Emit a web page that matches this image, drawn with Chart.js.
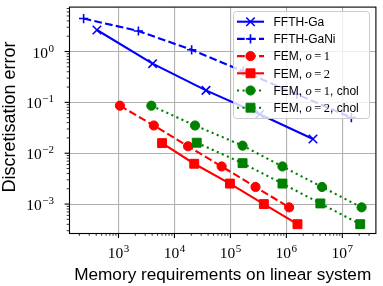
<!DOCTYPE html>
<html><head><meta charset="utf-8">
<script src="https://cdn.jsdelivr.net/npm/chart.js@4/dist/chart.umd.min.js"></script>
<style>html,body{margin:0;padding:0;background:#fff;}canvas{display:block;}</style>
</head><body>
<canvas id="c" width="383" height="286"></canvas>
<script>
// ---- data ----
const seriesNames = ['FFTH-Ga', 'FFTH-GaNi', 'FEM, o = 1', 'FEM, o = 2', 'FEM, o = 1, chol', 'FEM, o = 2, chol'];
const gaMem   = [412, 4070, 36600, 335000, 2.99e6];
const gaErr   = [2.65, 0.576, 0.172, 0.0585, 0.0190];
const ganiMem = [238, 2270, 20300, 169000, 1.53e6, 1.45e7];
const ganiErr = [4.45, 2.53, 1.08, 0.408, 0.145, 0.050];
const fem1Mem = [1060, 4280, 17500, 69700, 281000, 1.12e6];
const fem1Err = [0.0860, 0.0351, 0.0137, 0.00549, 0.00217, 0.000862];
const fem2Mem = [6010, 22600, 98000, 396000, 1.58e6];
const fem2Err = [0.0158, 0.00621, 0.00253, 0.00100, 0.000402];
const fem1cMem = [3870, 23300, 165000, 851000, 4.33e6, 2.21e7];
const fem1cErr = [0.0860, 0.0351, 0.0141, 0.00549, 0.00217, 0.000862];
const fem2cMem = [25000, 165000, 851000, 4.05e6, 2.09e7];
const fem2cErr = [0.0161, 0.00637, 0.00253, 0.00103, 0.000402];
const xTickExps = [3, 4, 5, 6, 7];
const yTickExps = [-3, -2, -1, 0];
const xLabel = 'Memory requirements on linear system';
const yLabel = 'Discretisation error';

const pts = (xs, ys) => xs.map((x, i) => ({x: x, y: ys[i]}));
const BLUE = '#0000ff', RED = '#ff0000', GREEN = '#008000';
const DASH = [7.7, 3.3], DOT = [2.1, 3.4];
const LW = 2.1;

const styles = [
  {color: BLUE, dash: [], pointStyle: 'crossRot', radius: 6, bw: 1.6},
  {color: BLUE, dash: DASH, pointStyle: 'cross', radius: 4.6, bw: 1.6},
  {color: RED, dash: DASH, pointStyle: 'circle', radius: 4.6, bw: 1},
  {color: RED, dash: [], pointStyle: 'rect', radius: 6.3, bw: 1},
  {color: GREEN, dash: DOT, pointStyle: 'circle', radius: 4.6, bw: 1},
  {color: GREEN, dash: DOT, pointStyle: 'rect', radius: 6.3, bw: 1}
];
const dataSets = [pts(gaMem, gaErr), pts(ganiMem, ganiErr), pts(fem1Mem, fem1Err),
                  pts(fem2Mem, fem2Err), pts(fem1cMem, fem1cErr), pts(fem2cMem, fem2cErr)];

const datasets = dataSets.map((d, i) => ({
  label: seriesNames[i],
  data: d,
  borderColor: styles[i].color,
  backgroundColor: styles[i].color,
  borderWidth: LW,
  borderDash: styles[i].dash,
  pointStyle: styles[i].pointStyle,
  pointRadius: styles[i].radius,
  pointBorderWidth: styles[i].bw,
  pointBackgroundColor: styles[i].color,
  pointBorderColor: styles[i].color,
  tension: 0,
  fill: false,
  order: 5 - i
}));

const SERIF = '"Liberation Serif", "DejaVu Serif", serif';
const SANS = '"Liberation Sans", "DejaVu Sans", sans-serif';

function drawPow(ctx, exp, x, baseline, align) {
  const eStr = exp < 0 ? '\u2212' + Math.abs(exp) : String(exp);
  ctx.font = '15.5px ' + SERIF;
  const w1 = ctx.measureText('10').width;
  ctx.font = '11px ' + SERIF;
  const w2 = ctx.measureText(eStr).width;
  const total = w1 + 0.5 + w2;
  const sx = align === 'right' ? x - total : x - total / 2;
  ctx.textAlign = 'left';
  ctx.textBaseline = 'alphabetic';
  ctx.font = '15.5px ' + SERIF;
  ctx.fillText('10', sx, baseline);
  ctx.font = '11px ' + SERIF;
  ctx.fillText(eStr, sx + w1 + 0.5, baseline - 6);
}

function legendText(ctx, label, x, y) {
  const m = label.match(/^(.*?)o = (\d)(.*)$/);
  ctx.textAlign = 'left';
  ctx.textBaseline = 'alphabetic';
  ctx.fillStyle = '#000';
  if (!m) {
    ctx.font = '12px ' + SANS;
    ctx.fillText(label, x, y);
    return;
  }
  let cx = x;
  ctx.font = '12px ' + SANS;
  ctx.fillText(m[1], cx, y); cx += ctx.measureText(m[1]).width;
  ctx.font = 'italic 12.5px ' + SERIF;
  ctx.fillText('o', cx, y); cx += ctx.measureText('o').width + 2.5;
  ctx.font = '12.5px ' + SERIF;
  ctx.fillText('=', cx, y); cx += ctx.measureText('=').width + 2.5;
  ctx.fillText(m[2], cx, y); cx += ctx.measureText(m[2]).width;
  ctx.font = '12px ' + SANS;
  ctx.fillText(m[3], cx, y);
}

const deco = {
  id: 'deco',
  afterDraw(chart) {
    const ctx = chart.ctx;
    const a = chart.chartArea;
    const xs = chart.scales.x, ys = chart.scales.y;
    ctx.save();
    ctx.strokeStyle = '#000';
    ctx.lineWidth = 1.1;
    ctx.strokeRect(a.left - 0.5, a.top - 0.5, a.right - a.left + 1, a.bottom - a.top + 1);
    const drawX = (v, len, lw) => {
      const p = xs.getPixelForValue(v);
      if (p < a.left - 0.1 || p > a.right + 0.1) return;
      ctx.lineWidth = lw;
      ctx.beginPath(); ctx.moveTo(p, a.bottom); ctx.lineTo(p, a.bottom + len); ctx.stroke();
    };
    const drawY = (v, len, lw) => {
      const p = ys.getPixelForValue(v);
      if (p < a.top - 0.1 || p > a.bottom + 0.1) return;
      ctx.lineWidth = lw;
      ctx.beginPath(); ctx.moveTo(a.left - 0.5, p); ctx.lineTo(a.left - 0.5 - len, p); ctx.stroke();
    };
    for (let e = 1; e <= 8; e++) {
      for (let k = 1; k <= 9; k++) {
        const v = k * Math.pow(10, e);
        if (v < xs.min || v > xs.max) continue;
        if (k === 1) drawX(v, 4.9, 1.1); else drawX(v, 2.8, 0.8);
      }
    }
    for (let e = -5; e <= 1; e++) {
      for (let k = 1; k <= 9; k++) {
        const v = k * Math.pow(10, e);
        if (v < ys.min || v > ys.max) continue;
        if (k === 1) drawY(v, 4.9, 1.1); else drawY(v, 2.8, 0.8);
      }
    }
    ctx.fillStyle = '#000';
    xTickExps.forEach(e => drawPow(ctx, e, xs.getPixelForValue(Math.pow(10, e)), a.bottom + 24.5, 'center'));
    yTickExps.forEach(e => drawPow(ctx, e, a.left - 16, ys.getPixelForValue(Math.pow(10, e)) + 6, 'right'));
    ctx.textAlign = 'center';
    ctx.textBaseline = 'alphabetic';
    ctx.font = '17.2px ' + SANS;
    ctx.fillText(xLabel, (a.left + a.right) / 2, 280);
    ctx.save();
    ctx.translate(15, 117);
    ctx.rotate(-Math.PI / 2);
    ctx.font = '18px ' + SANS;
    ctx.fillText(yLabel, 0, 0);
    ctx.restore();
    const lx = 233.5, ly = 11.5, lw = 136, lh = 107;
    ctx.beginPath();
    ctx.roundRect(lx, ly, lw, lh, 3);
    ctx.fillStyle = 'rgba(255,255,255,0.8)';
    ctx.fill();
    ctx.strokeStyle = '#cccccc';
    ctx.lineWidth = 1;
    ctx.stroke();
    chart.data.datasets.forEach((ds, i) => {
      const ry = 21.7 + i * 17.2;
      ctx.save();
      ctx.strokeStyle = ds.borderColor;
      ctx.lineWidth = LW;
      ctx.setLineDash(ds.borderDash);
      ctx.beginPath(); ctx.moveTo(237, ry); ctx.lineTo(264, ry); ctx.stroke();
      ctx.setLineDash([]);
      ctx.fillStyle = ds.pointBackgroundColor;
      ctx.strokeStyle = ds.pointBorderColor;
      ctx.lineWidth = ds.pointBorderWidth;
      Chart.helpers.drawPoint(ctx, {pointStyle: ds.pointStyle, radius: ds.pointRadius, rotation: 0, borderWidth: ds.pointBorderWidth}, 250.5, ry);
      ctx.restore();
      legendText(ctx, ds.label, 273.5, ry + 4.3);
    });
    ctx.restore();
  }
};

new Chart(document.getElementById('c'), {
  type: 'line',
  data: {datasets: datasets},
  options: {
    responsive: false,
    devicePixelRatio: 1,
    animation: false,
    layout: {padding: {top: 6, right: 7, left: 0, bottom: 0}},
    plugins: {legend: {display: false}, tooltip: {enabled: false}},
    scales: {
      x: {
        type: 'logarithmic', min: 136, max: 3.9e7,
        afterBuildTicks: s => { s.ticks = xTickExps.map(e => ({value: Math.pow(10, e), major: true})); },
        ticks: {display: false},
        grid: {color: '#b0b0b0', lineWidth: 1.1, drawTicks: false},
        border: {display: false},
        afterFit: s => { s.height = 53; }
      },
      y: {
        type: 'logarithmic', min: 2.7e-4, max: 7.3,
        afterBuildTicks: s => { s.ticks = yTickExps.map(e => ({value: Math.pow(10, e), major: true})); },
        ticks: {display: false},
        grid: {color: '#b0b0b0', lineWidth: 1.1, drawTicks: false},
        border: {display: false},
        afterFit: s => { s.width = 70; }
      }
    }
  },
  plugins: [deco]
});
</script>
</body></html>
